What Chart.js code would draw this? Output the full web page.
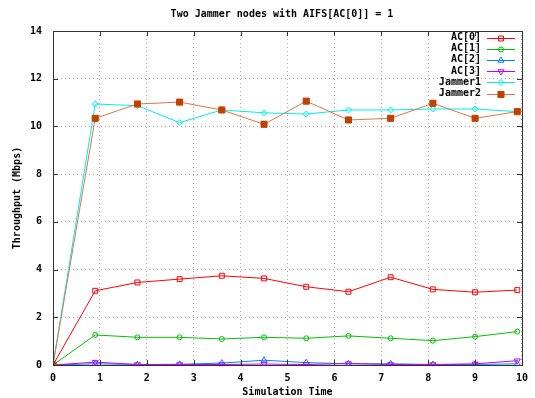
<!DOCTYPE html>
<html>
<head>
<meta charset="utf-8">
<script src="https://cdn.jsdelivr.net/npm/chart.js@4.4.1/dist/chart.umd.min.js"></script>
<style>
html,body{margin:0;padding:0;background:#fff;}
#wrap{width:535px;height:398px;}
</style>
</head>
<body>
<div id="wrap"><canvas id="c" width="535" height="398"></canvas></div>
<script>
const chartTitle = "Two Jammer nodes with AIFS[AC[0]] = 1";
const xTitle = "Simulation Time";
const yTitle = "Throughput (Mbps)";
const times = [0, 0.9, 1.8, 2.7, 3.6, 4.5, 5.4, 6.3, 7.2, 8.1, 9.0, 9.9];
const seriesNames = ["AC[0]", "AC[1]", "AC[2]", "AC[3]", "Jammer1", "Jammer2"];
const ac0 = [0, 3.11, 3.46, 3.60, 3.74, 3.63, 3.28, 3.07, 3.68, 3.17, 3.05, 3.14];
const ac1 = [0, 1.26, 1.16, 1.16, 1.09, 1.16, 1.12, 1.22, 1.12, 1.02, 1.19, 1.40];
const ac2 = [0, 0.05, 0.02, 0.03, 0.08, 0.20, 0.10, 0.05, 0.05, 0.02, 0.02, 0.05];
const ac3 = [0, 0.12, 0.02, 0.02, 0.02, 0.04, 0.02, 0.06, 0.02, 0.02, 0.05, 0.18];
const jammer1 = [0, 10.94, 10.87, 10.16, 10.69, 10.57, 10.52, 10.69, 10.69, 10.73, 10.73, 10.62];
const jammer2 = [0, 10.34, 10.94, 11.02, 10.69, 10.09, 11.06, 10.27, 10.34, 10.97, 10.34, 10.62];
const xTicks = [0,1,2,3,4,5,6,7,8,9,10];
const yTicks = [0,2,4,6,8,10,12,14];

const FONT = '"DejaVu Sans Mono", "Liberation Mono", monospace';
const pts = arr => arr.map((v,i)=>({x:times[i], y:v}));

const styles = [
  {line:'#ff0000', fill:'rgba(255,255,255,0)', pt:'#ff0000', style:'rect', r:3.5, rot:0},
  {line:'#00c000', fill:'rgba(255,255,255,0)', pt:'#00c000', style:'circle', r:2.5, rot:0},
  {line:'#0080ff', fill:'rgba(255,255,255,0)', pt:'#0080ff', style:'triangle', r:3.5, rot:0},
  {line:'#c000ff', fill:'rgba(255,255,255,0)', pt:'#c000ff', style:'triangle', r:3.5, rot:180},
  {line:'#00eeee', fill:'rgba(255,255,255,0)', pt:'#00eeee', style:'rectRot', r:3, rot:0},
  {line:'#d8784a', fill:'#c04000', pt:'#c04000', style:'rect', r:4.3, rot:0}
];
const values = [ac0, ac1, ac2, ac3, jammer1, jammer2];

const datasets = values.map((v,i)=>({
  label: seriesNames[i],
  data: pts(v),
  borderColor: styles[i].line,
  backgroundColor: styles[i].fill,
  pointBorderColor: styles[i].pt,
  pointBackgroundColor: styles[i].fill,
  pointStyle: styles[i].style,
  pointRadius: styles[i].r,
  pointRotation: styles[i].rot,
  pointBorderWidth: 1,
  borderWidth: 1,
  tension: 0,
  fill: false,
  order: values.length - i
}));

const framePlugin = {
  id: 'frame',
  afterDraw(chart) {
    const ctx = chart.ctx;
    const a = chart.chartArea;
    const xs = chart.scales.x, ys = chart.scales.y;
    ctx.save();
    ctx.strokeStyle = '#333333';
    ctx.lineWidth = 1;
    ctx.strokeRect(Math.round(a.left)+0.5, Math.round(a.top)+0.5, Math.round(a.right-a.left), Math.round(a.bottom-a.top));
    const tl = 5;
    ctx.beginPath();
    xTicks.forEach(t=>{
      const px = Math.round(xs.getPixelForValue(t))+0.5;
      ctx.moveTo(px, a.bottom); ctx.lineTo(px, a.bottom - tl);
      ctx.moveTo(px, a.top); ctx.lineTo(px, a.top + tl);
    });
    yTicks.forEach(t=>{
      const py = Math.round(ys.getPixelForValue(t))+0.5;
      ctx.moveTo(a.left, py); ctx.lineTo(a.left + tl, py);
      ctx.moveTo(a.right, py); ctx.lineTo(a.right - tl, py);
    });
    ctx.stroke();

    // title
    ctx.fillStyle = '#000';
    ctx.font = 'bold 10px ' + FONT;
    ctx.textAlign = 'center';
    ctx.textBaseline = 'middle';
    ctx.fillText(chartTitle, 282, 14);

    // legend (inside, top-right)
    ctx.textAlign = 'right';
    const rowY0 = 37.5, rowH = 11.2;
    chart.data.datasets.forEach((d,i)=>{
      const y = rowY0 + i*rowH;
      ctx.fillStyle = '#000';
      ctx.fillText(d.label, 481, y);
      ctx.strokeStyle = d.borderColor;
      ctx.lineWidth = 1;
      ctx.beginPath();
      ctx.moveTo(487, Math.round(y)+0.5);
      ctx.lineTo(515, Math.round(y)+0.5);
      ctx.stroke();
      ctx.fillStyle = d.pointBackgroundColor;
      ctx.strokeStyle = d.pointBorderColor;
      Chart.helpers.drawPoint(ctx, {
        pointStyle: d.pointStyle, rotation: d.pointRotation, radius: d.pointRadius, borderWidth: 1
      }, 501, Math.round(y)+0.5);
    });
    ctx.restore();
  }
};

new Chart(document.getElementById('c'), {
  type: 'line',
  data: { datasets },
  options: {
    responsive: false,
    animation: false,
    layout: { padding: { left: 0, right: 9, top: 31, bottom: 0 } },
    plugins: { legend: { display: false }, tooltip: { enabled: false }, title: { display: false } },
    scales: {
      x: {
        type: 'linear', min: 0, max: 10,
        afterFit: s => { s.height = 33; },
        afterBuildTicks: s => { s.ticks = xTicks.map(v=>({value:v})); },
        ticks: { padding: 7, color: '#000', font: { family: FONT, size: 10, weight: 'bold' }, maxRotation: 0 },
        grid: { color: '#a8a8a8', lineWidth: 1, drawTicks: false },
        border: { display: false, dash: [1,3] },
        title: { display: true, text: xTitle, color: '#000', font: { family: FONT, size: 10, weight: 'bold' }, padding: { top: 0, bottom: 0 } }
      },
      y: {
        type: 'linear', min: 0, max: 14,
        afterFit: s => { s.width = 53; },
        afterBuildTicks: s => { s.ticks = yTicks.map(v=>({value:v})); },
        ticks: { padding: 11, color: '#000', font: { family: FONT, size: 10, weight: 'bold' } },
        grid: { color: '#a8a8a8', lineWidth: 1, drawTicks: false },
        border: { display: false, dash: [1,3] },
        title: { display: true, text: yTitle, color: '#000', font: { family: FONT, size: 10, weight: 'bold' }, padding: { top: 11, bottom: 0 } }
      }
    }
  },
  plugins: [framePlugin]
});
</script>
</body>
</html>
